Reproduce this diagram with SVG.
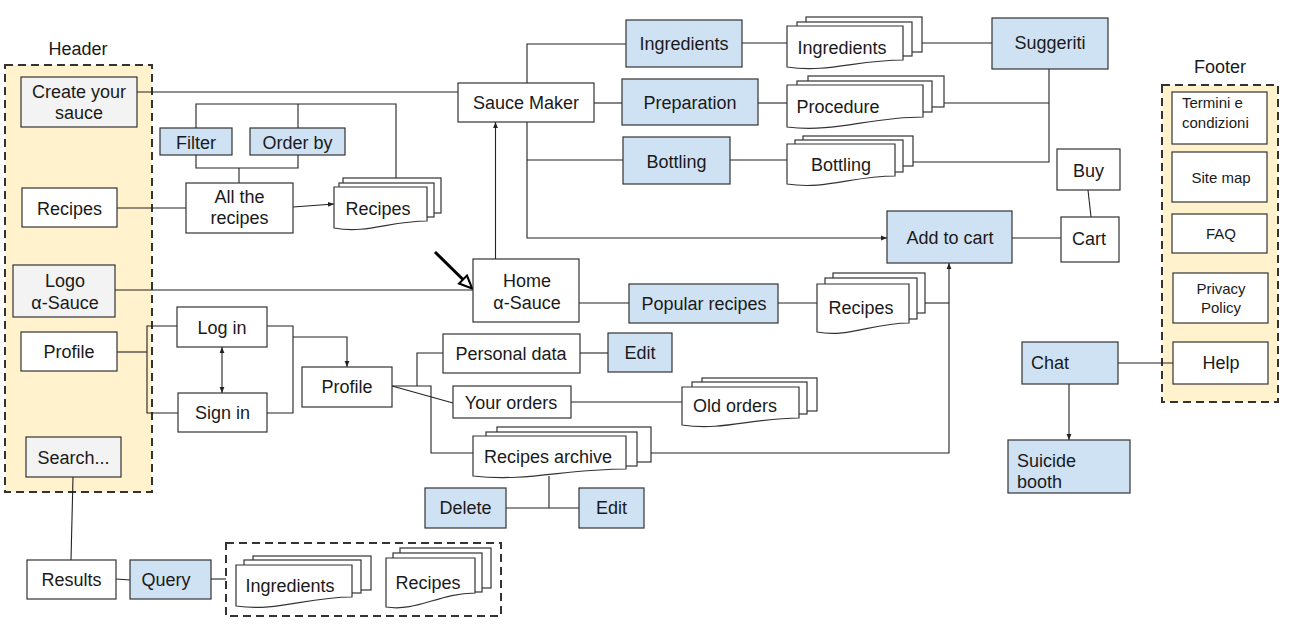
<svg xmlns="http://www.w3.org/2000/svg" width="1289" height="624" viewBox="0 0 1289 624">
<defs>
<style>
text{font-family:"Liberation Sans",Arial,sans-serif;font-size:18px;fill:#1a1a1a;text-anchor:middle}
.s{font-size:15px}
.st{text-anchor:start}
.box{fill:#fff;stroke:#333;stroke-width:1.2}
.blue{fill:#cfe2f3;stroke:#333;stroke-width:1.2}
.gray{fill:#f3f3f3;stroke:#333;stroke-width:1.2}
.doc{fill:#fff;stroke:#333;stroke-width:1.2}
.cont{fill:#fff2cc;stroke:#333;stroke-width:2;stroke-dasharray:8 5}
.dash{fill:none;stroke:#333;stroke-width:2;stroke-dasharray:8 5}
.ln{fill:none;stroke:#222;stroke-width:1.1}
</style>
<marker id="arr" viewBox="0 0 10 10" refX="10" refY="5" markerWidth="6" markerHeight="6" markerUnits="userSpaceOnUse" orient="auto-start-reverse"><path d="M0,1 L10,5 L0,9 Z" fill="#222"/></marker>
<marker id="big" viewBox="0 0 20 20" refX="2" refY="10" markerWidth="16" markerHeight="16" markerUnits="userSpaceOnUse" orient="auto"><path d="M2,3 L18,10 L2,17 Z" fill="#fff" stroke="#000" stroke-width="2.6" stroke-linejoin="miter"/></marker>
</defs>
<rect width="1289" height="624" fill="#fff"/>

<g id="header-container">
<text x="78" y="55">Header</text>
<rect class="cont" x="5" y="65" width="147" height="427"/>
</g>
<g id="footer-container">
<text x="1220" y="73">Footer</text>
<rect class="cont" x="1162" y="85" width="116" height="317"/>
</g>
<g id="search-results-container">
<rect class="dash" x="226" y="543" width="275" height="73"/>
</g>

<g id="connectors">
<path class="ln" d="M137,92 H458"/>
<path class="ln" d="M527,83 V44 H626"/>
<path class="ln" d="M594,103 H622"/>
<path class="ln" d="M527,122 V238 H887" marker-end="url(#arr)"/>
<path class="ln" d="M527,160 H623"/>
<path class="ln" d="M495.5,259 V122" marker-end="url(#arr)"/>
<path class="ln" d="M742,43 H787"/>
<path class="ln" d="M922,43 H992"/>
<path class="ln" d="M758,103 H787"/>
<path class="ln" d="M944,103 H1049"/>
<path class="ln" d="M1049,69 V162 H913"/>
<path class="ln" d="M730,160 H787"/>
<path class="ln" d="M1088,190 L1091,217"/>
<path class="ln" d="M1012,238 H1061"/>
<path class="ln" d="M196,128 V104 H396 V178"/>
<path class="ln" d="M298,104 V128"/>
<path class="ln" d="M196,155 V168 H298 V155"/>
<path class="ln" d="M239,168 V183"/>
<path class="ln" d="M117,208 H186"/>
<path class="ln" d="M293,207 L334,204" marker-end="url(#arr)"/>
<path class="ln" d="M115,290 H473"/>
<path fill="none" stroke="#000" stroke-width="3" d="M435,252 L463,279.5" marker-end="url(#big)"/>
<path class="ln" d="M579,303 H629"/>
<path class="ln" d="M778,303 H817"/>
<path class="ln" d="M925,303 H949"/>
<path class="ln" d="M651,453 H949 V263" marker-end="url(#arr)"/>
<path class="ln" d="M117,352 H147"/>
<path class="ln" d="M177,326 H147 V413 H178"/>
<path class="ln" d="M222,347 V393" marker-start="url(#arr)" marker-end="url(#arr)"/>
<path class="ln" d="M267,326 H293 V413 H267"/>
<path class="ln" d="M293,337 H347 V367" marker-end="url(#arr)"/>
<path class="ln" d="M392,386 H431 V453 H473"/>
<path class="ln" d="M417,386 V353 H443"/>
<path class="ln" d="M392,386 L453,403"/>
<path class="ln" d="M580,353 H608"/>
<path class="ln" d="M571,402 H682"/>
<path class="ln" d="M549,476 V508"/>
<path class="ln" d="M506,508 H579"/>
<path class="ln" d="M73,477 L71,560"/>
<path class="ln" d="M116,579 L130,580"/>
<path class="ln" d="M211,579 H226"/>
<path class="ln" d="M1118,363 H1173"/>
<path class="ln" d="M1069,384 V440" marker-end="url(#arr)"/>
</g>

<g id="create-your-sauce"><rect class="gray" x="21" y="77" width="116" height="50"/><text x="79" y="98">Create your</text><text x="79" y="119">sauce</text></g>
<g id="header-recipes"><rect class="box" x="22" y="188" width="95" height="39"/><text x="69.5" y="215">Recipes</text></g>
<g id="logo"><rect class="gray" x="13" y="265" width="102" height="52"/><text x="65" y="287">Logo</text><text x="65" y="309">α-Sauce</text></g>
<g id="header-profile"><rect class="box" x="21" y="332" width="96" height="39"/><text x="69" y="358">Profile</text></g>
<g id="search"><rect class="gray" x="26" y="437" width="95" height="40"/><text x="73.5" y="464">Search...</text></g>

<g id="filter"><rect class="blue" x="160" y="128" width="72" height="27"/><text x="196" y="149">Filter</text></g>
<g id="order-by"><rect class="blue" x="250" y="128" width="95" height="27"/><text x="297.5" y="149">Order by</text></g>
<g id="all-the-recipes"><rect class="box" x="186" y="183" width="107" height="50"/><text x="239.5" y="203">All the</text><text x="239.5" y="224">recipes</text></g>
<g id="recipes-list"><rect class="doc" x="343" y="178" width="98" height="35"/><rect class="doc" x="339" y="183" width="95" height="34"/><path class="doc" d="M334,187 H427 V221 C390,221 367,234 334,228 Z"/><text x="378" y="215">Recipes</text></g>

<g id="sauce-maker"><rect class="box" x="458" y="83" width="136" height="39"/><text x="526" y="109">Sauce Maker</text></g>
<g id="ingredients-step"><rect class="blue" x="626" y="20" width="116" height="47"/><text x="684" y="50">Ingredients</text></g>
<g id="preparation"><rect class="blue" x="622" y="79" width="136" height="46"/><text x="690" y="109">Preparation</text></g>
<g id="bottling-step"><rect class="blue" x="623" y="137" width="107" height="47"/><text x="676.5" y="168">Bottling</text></g>
<g id="ingredients-docs"><rect class="doc" x="806" y="17" width="116" height="35"/><rect class="doc" x="797" y="22" width="115" height="34"/><path class="doc" d="M787,26 H903 V60 C857,60 828,73 787,67 Z"/><text x="842" y="54">Ingredients</text></g>
<g id="procedure-docs"><rect class="doc" x="808" y="76" width="136" height="31"/><rect class="doc" x="797" y="81" width="135" height="31"/><path class="doc" d="M787,85 H923 V117 C869,117 835,133 787,127 Z"/><text x="838" y="113">Procedure</text></g>
<g id="bottling-docs"><rect class="doc" x="803" y="136" width="110" height="30"/><rect class="doc" x="795" y="140" width="108" height="32"/><path class="doc" d="M787,144 H895 V176 C852,176 825,190 787,184 Z"/><text x="841" y="171">Bottling</text></g>
<g id="suggeriti"><rect class="blue" x="992" y="18" width="116" height="51"/><text x="1050" y="49">Suggeriti</text></g>
<g id="buy"><rect class="box" x="1057" y="149" width="63" height="41"/><text x="1088.5" y="177">Buy</text></g>
<g id="cart"><rect class="box" x="1061" y="217" width="58" height="45"/><text x="1089" y="245">Cart</text></g>
<g id="add-to-cart"><rect class="blue" x="887" y="211" width="125" height="52"/><text x="950" y="244">Add to cart</text></g>

<g id="home"><rect class="box" x="473" y="259" width="106" height="63"/><text x="527" y="287">Home</text><text x="527" y="309">α-Sauce</text></g>
<g id="popular-recipes"><rect class="blue" x="629" y="284" width="149" height="39"/><text x="704" y="310">Popular recipes</text></g>
<g id="popular-recipes-docs"><rect class="doc" x="833" y="273" width="92" height="40"/><rect class="doc" x="825" y="278" width="92" height="41"/><path class="doc" d="M817,284 H909 V323 C872,323 849,338 817,332 Z"/><text x="861" y="314">Recipes</text></g>

<g id="log-in"><rect class="box" x="177" y="307" width="90" height="40"/><text x="222" y="334">Log in</text></g>
<g id="sign-in"><rect class="box" x="178" y="393" width="89" height="39"/><text x="222.5" y="419">Sign in</text></g>
<g id="profile"><rect class="box" x="302" y="367" width="90" height="40"/><text x="347" y="393">Profile</text></g>
<g id="personal-data"><rect class="box" x="443" y="334" width="137" height="39"/><text x="511" y="360">Personal data</text></g>
<g id="edit-personal"><rect class="blue" x="608" y="333" width="64" height="39"/><text x="640" y="359">Edit</text></g>
<g id="your-orders"><rect class="box" x="453" y="386" width="118" height="32"/><text x="511" y="409">Your orders</text></g>
<g id="old-orders"><rect class="doc" x="702" y="378" width="115" height="33"/><rect class="doc" x="692" y="382" width="115" height="32"/><path class="doc" d="M682,387 H799 V418 C752,418 723,431 682,425 Z"/><text x="735" y="412">Old orders</text></g>
<g id="recipes-archive"><rect class="doc" x="497" y="427" width="154" height="35"/><rect class="doc" x="486" y="432" width="151" height="34"/><path class="doc" d="M473,436 H626 V469 C565,469 527,482 473,476 Z"/><text x="548" y="463">Recipes archive</text></g>
<g id="delete"><rect class="blue" x="425" y="488" width="81" height="40"/><text x="465.5" y="514">Delete</text></g>
<g id="edit-archive"><rect class="blue" x="579" y="488" width="65" height="40"/><text x="611.5" y="514">Edit</text></g>

<g id="results"><rect class="box" x="27" y="560" width="89" height="39"/><text x="71.5" y="586">Results</text></g>
<g id="query"><rect class="blue" x="130" y="560" width="81" height="39"/><text x="166" y="586">Query</text></g>
<g id="search-ingredients"><rect class="doc" x="253" y="556" width="118" height="34"/><rect class="doc" x="244" y="560" width="117" height="33"/><path class="doc" d="M236,565 H352 V597 C306,597 277,612 236,606 Z"/><text x="290" y="592">Ingredients</text></g>
<g id="search-recipes"><rect class="doc" x="400" y="548" width="91" height="40"/><rect class="doc" x="393" y="553" width="89" height="39"/><path class="doc" d="M386,558 H475 V593 C439,593 417,612 386,607 Z"/><text x="428" y="589">Recipes</text></g>

<g id="termini"><rect class="box" x="1172" y="92" width="95" height="52"/><text class="s st" x="1182" y="108">Termini e</text><text class="s st" x="1182" y="128">condizioni</text></g>
<g id="site-map"><rect class="box" x="1172" y="152" width="95" height="50"/><text class="s" x="1221" y="183">Site map</text></g>
<g id="faq"><rect class="box" x="1172" y="214" width="95" height="39"/><text class="s" x="1221" y="239">FAQ</text></g>
<g id="privacy"><rect class="box" x="1173" y="273" width="95" height="50"/><text class="s" x="1221" y="294">Privacy</text><text class="s" x="1221" y="313">Policy</text></g>
<g id="help"><rect class="box" x="1173" y="342" width="95" height="42"/><text x="1221" y="369">Help</text></g>
<g id="chat"><rect class="blue" x="1022" y="342" width="96" height="42"/><text class="st" x="1031" y="369">Chat</text></g>
<g id="suicide-booth"><rect class="blue" x="1008" y="440" width="122" height="53"/><text class="st" x="1017" y="467">Suicide</text><text class="st" x="1017" y="488">booth</text></g>
</svg>
